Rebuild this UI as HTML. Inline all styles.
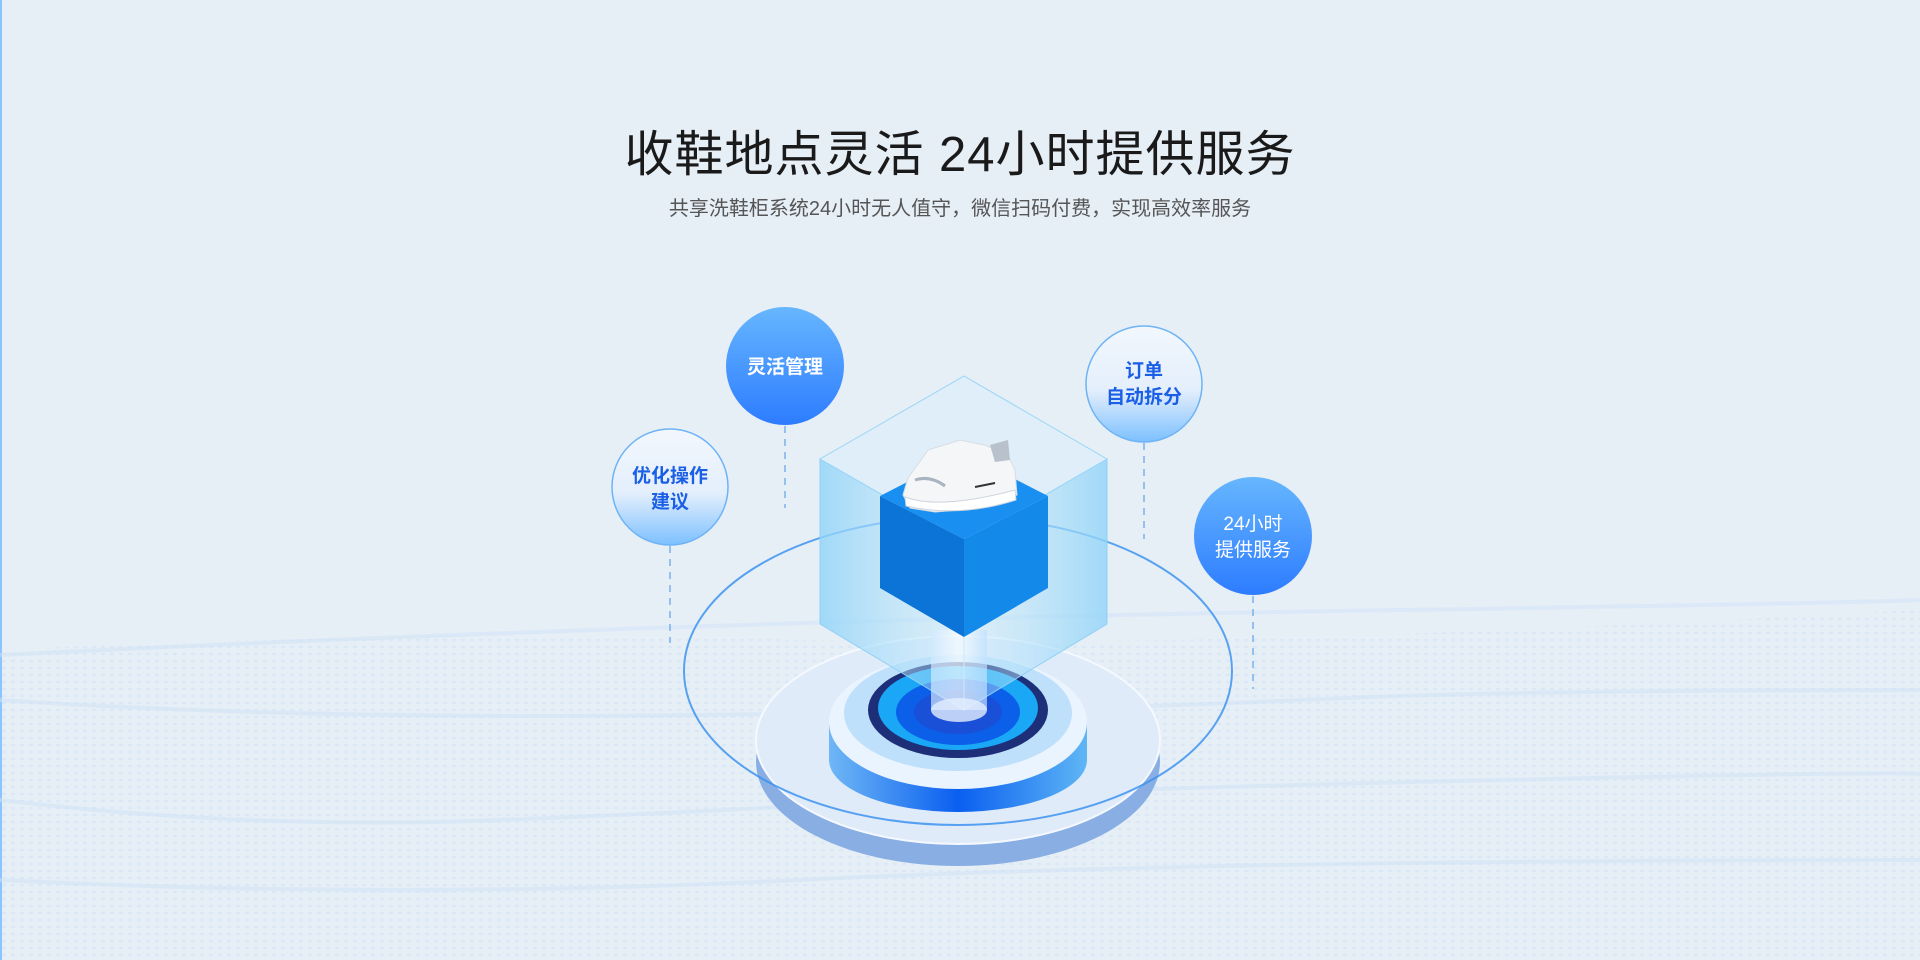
<!DOCTYPE html>
<html><head><meta charset="utf-8"><style>
html,body{margin:0;padding:0}
body{width:1920px;height:960px;overflow:hidden;background:#e6eef6;position:relative;font-family:"Liberation Sans","Noto Sans CJK SC",sans-serif}
.t{position:absolute;left:0;width:1920px;text-align:center;color:#1a1a1a}
</style></head><body>
<div style="position:absolute;left:0;top:0;width:2px;height:960px;background:#8cc4ff"></div>
<div class="t" style="top:115px;font-size:49px;letter-spacing:1px;">收鞋地点灵活 24小时提供服务</div>
<div class="t" style="top:192px;font-size:20px;color:#555">共享洗鞋柜系统24小时无人值守，微信扫码付费，实现高效率服务</div>
<svg width="1920" height="960" style="position:absolute;left:0;top:0">
<defs>
<pattern id="dots" width="9" height="7" patternUnits="userSpaceOnUse"><ellipse cx="4" cy="3" rx="2.2" ry="1.2" fill="#d3e4f7"/></pattern>
<linearGradient id="blueC" x1="0" y1="0" x2="0" y2="1"><stop offset="0" stop-color="#66b6ff"/><stop offset="1" stop-color="#2d7cff"/></linearGradient>
<linearGradient id="lightC" x1="0" y1="0" x2="0" y2="1"><stop offset="0" stop-color="#f2f7fd"/><stop offset="0.55" stop-color="#e4effc"/><stop offset="1" stop-color="#7cc0ff"/></linearGradient>
<linearGradient id="glassL" x1="0" y1="0" x2="1" y2="0"><stop offset="0" stop-color="#8fd3f8" stop-opacity=".8"/><stop offset="1" stop-color="#c9ecfb" stop-opacity=".35"/></linearGradient>
<linearGradient id="glassR" x1="1" y1="0" x2="0" y2="0"><stop offset="0" stop-color="#8fd3f8" stop-opacity=".8"/><stop offset="1" stop-color="#c9ecfb" stop-opacity=".35"/></linearGradient>
<linearGradient id="ringSide" x1="0" y1="0" x2="1" y2="0"><stop offset="0" stop-color="#6fb7f5"/><stop offset=".5" stop-color="#0a5ff0"/><stop offset="1" stop-color="#5fb6f5"/></linearGradient>
<linearGradient id="pillar" x1="0" y1="0" x2="1" y2="0"><stop offset="0" stop-color="#cfe8ff" stop-opacity=".7"/><stop offset=".5" stop-color="#ffffff" stop-opacity=".6"/><stop offset="1" stop-color="#bfe0ff" stop-opacity=".7"/></linearGradient>
</defs>
<path d="M0 650 Q400 630 800 640 T1920 610 L1920 960 L0 960Z" fill="url(#dots)" opacity=".7"/>
<g fill="none" stroke="#d2e4f7" stroke-width="4" opacity=".55">
<path d="M0 655 Q300 640 650 628 T1400 610 T1920 600"/>
<path d="M0 700 Q300 720 700 715 T1300 700 T1920 690"/>
<path d="M0 800 Q250 830 500 820 T900 800 T1500 780 T1920 775"/>
<path d="M0 880 Q400 900 800 880 T1920 860"/>
</g>
<g stroke="#7ab2ec" stroke-width="1.5" stroke-dasharray="7 6">
<line x1="785" y1="426" x2="785" y2="508"/>
<line x1="670" y1="546" x2="670" y2="643"/>
<line x1="1144" y1="443" x2="1144" y2="539"/>
<line x1="1253" y1="596" x2="1253" y2="689"/>
</g>
<ellipse cx="958" cy="762" rx="202" ry="104" fill="#88aee4"/>
<ellipse cx="958" cy="740" rx="202" ry="104" fill="#e0ebfa"/>
<ellipse cx="958" cy="740" rx="202" ry="104" fill="none" stroke="#f5f9ff" stroke-width="2"/>
<path d="M829 722 L829 760 A129 52 0 0 0 1087 760 L1087 722Z" fill="url(#ringSide)"/>
<ellipse cx="958" cy="722" rx="129" ry="67" fill="#eaf4ff"/>
<ellipse cx="958" cy="713" rx="114" ry="58" fill="#bfe0fb"/>
<ellipse cx="958" cy="710" rx="90" ry="48" fill="#1e2f7a"/>
<ellipse cx="958" cy="708" rx="80" ry="42" fill="#1aa7f5"/>
<ellipse cx="958" cy="712" rx="62" ry="33" fill="#0b5fe8"/>
<ellipse cx="958" cy="712" rx="44" ry="22" fill="#1a4fd8"/>
<ellipse cx="958" cy="671" rx="274" ry="154" fill="none" stroke="#3d93f0" stroke-width="2" opacity=".85"/>
<polygon points="820,459 964,542 964,710 820,624" fill="url(#glassL)" stroke="#8fd0f5" stroke-width="1"/>
<polygon points="1107,459 964,542 964,710 1107,624" fill="url(#glassR)" stroke="#8fd0f5" stroke-width="1"/>
<polygon points="964,376 1107,459 964,542 820,459" fill="#d6eefc" fill-opacity=".45" stroke="#9ad6f7" stroke-width="1"/>
<rect x="931" y="630" width="56" height="80" fill="url(#pillar)"/>
<ellipse cx="959" cy="710" rx="28" ry="12" fill="#e3efff" opacity=".8"/>
<polygon points="880,496 964,539 964,637 880,588" fill="#0b74d6"/>
<polygon points="1048,496 964,539 964,637 1048,588" fill="#1389ea"/>
<polygon points="964,453 1048,496 964,539 880,496" fill="#1a8ff2"/>
<g>
<path d="M928 450 L960 440 L985 445 L1008 455 L1015 470 L1017 495 L990 505 L960 510 L935 512 L910 508 L903 495 L908 478 Z" fill="#f4f6f8" stroke="#d7dde4" stroke-width="1"/>
<path d="M905 497 Q940 510 1015 490 L1016 500 Q960 518 906 506Z" fill="#ffffff" stroke="#cfd6de"/>
<path d="M990 445 L1008 440 L1010 460 L995 462Z" fill="#b9c1cc"/>
<path d="M915 480 Q930 475 945 486" fill="none" stroke="#aab4c0" stroke-width="3"/>
<line x1="975" y1="487" x2="995" y2="483" stroke="#333" stroke-width="2"/>
</g>
<circle cx="785" cy="366" r="59" fill="url(#blueC)"/>
<circle cx="1253" cy="536" r="59" fill="url(#blueC)"/>
<circle cx="670" cy="487" r="58" fill="url(#lightC)" stroke="#6eb3f5" stroke-width="1.5"/>
<circle cx="1144" cy="384" r="58" fill="url(#lightC)" stroke="#6eb3f5" stroke-width="1.5"/>
<g font-family="Liberation Sans, Noto Sans CJK SC, sans-serif" font-size="19" font-weight="bold" text-anchor="middle">
<text x="785" y="373" fill="#fff">灵活管理</text>
<text x="1253" y="530" fill="#fff" font-weight="normal">24小时</text>
<text x="1253" y="556" fill="#fff" font-weight="normal">提供服务</text>
<text x="670" y="482" fill="#1b5fe6">优化操作</text>
<text x="670" y="508" fill="#1b5fe6">建议</text>
<text x="1144" y="377" fill="#1b5fe6">订单</text>
<text x="1144" y="403" fill="#1b5fe6">自动拆分</text>
</g>
</svg>
</body></html>
